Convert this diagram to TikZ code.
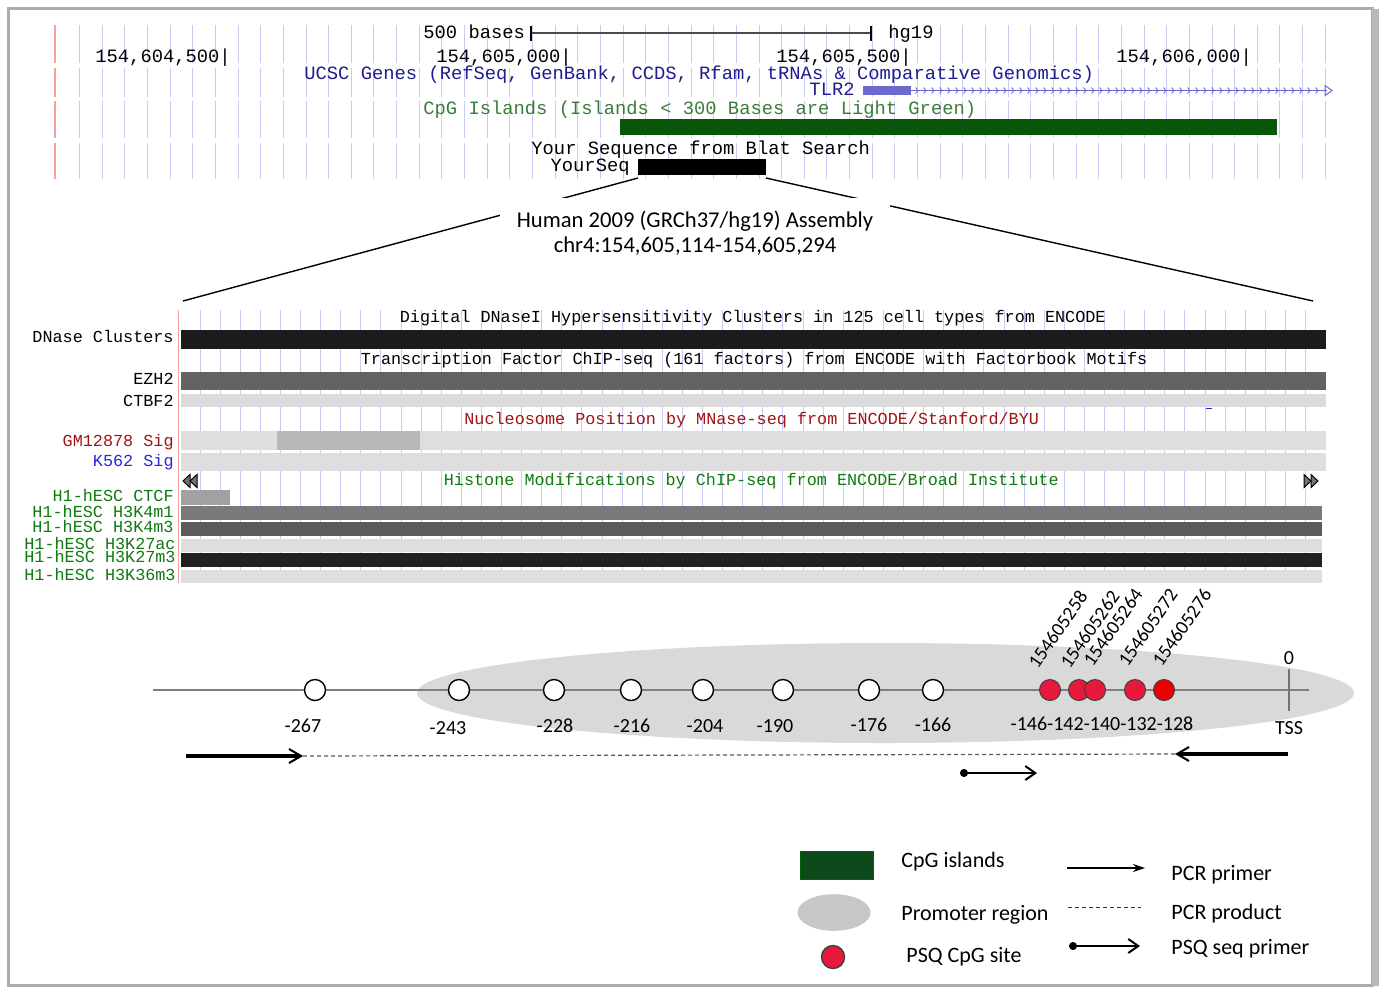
\documentclass[tikz,border=0pt]{standalone}
\usepackage{fontspec}
\setmainfont{Carlito}
\newfontfamily\ucsc{Liberation Mono}
\usetikzlibrary{arrows.meta}
\definecolor{gridblue}{HTML}{CACAF4}
\definecolor{gridred}{HTML}{F4A0A0}
\definecolor{navy}{HTML}{1E1E8C}
\definecolor{cpgtext}{HTML}{3A7D3A}
\definecolor{cpggreen}{HTML}{0B550B}
\definecolor{tlr}{HTML}{6B6BCF}
\definecolor{darkred}{HTML}{A01414}
\definecolor{kblue}{HTML}{2828D8}
\definecolor{hgreen}{HTML}{107A10}
\definecolor{promo}{HTML}{D9D9D9}
\definecolor{psqred}{HTML}{E8173C}
\definecolor{legendgreen}{HTML}{0C4A1C}
\tikzset{
  toptxt/.style={font=\ucsc\fontsize{9.4}{10}\selectfont, inner sep=0, text height=6.5pt, text depth=1.5pt},
  midtxt/.style={font=\ucsc\fontsize{8.4}{9}\selectfont, inner sep=0, text height=6pt, text depth=1.5pt},
  numtxt/.style={font=\fontsize{10}{12}\selectfont, inner sep=0, text height=7pt, text depth=0pt},
  rottxt/.style={font=\fontsize{9.7}{11}\selectfont, inner sep=0, rotate=55, anchor=south west},
  titletxt/.style={font=\fontsize{11.3}{13}\selectfont, inner sep=0},
  legtxt/.style={font=\fontsize{11}{13}\selectfont, inner sep=0, anchor=west, text height=7.5pt, text depth=2pt},
  gline/.style={gridblue, line width=0.5pt},
  rline/.style={gridred, line width=0.6pt},
  site/.style={draw=black, line width=0.7pt, fill=white},
  psq/.style={draw=black!75, line width=0.5pt, fill=psqred},
  zoomline/.style={black, line width=0.7pt},
  primer/.style={line width=1.8pt, -{Straight Barb[length=6pt,width=7pt,line width=1pt]}},
  product/.style={gray!70!black, line width=0.6pt, dash pattern=on 2pt off 1.5pt},
  seqprimer/.style={line width=0.7pt, {Circle[length=4pt]}-{Straight Barb[length=5pt,width=7pt,line width=1pt]}},
}
\begin{document}
\begin{tikzpicture}[x=0.5pt,y=-0.5pt]
\useasboundingbox (0,0) rectangle (1379,986);
\fill[white] (0,0) rectangle (1379,986);
% frame
\draw[gray!65, line width=1.5pt] (8,8) rectangle (1372,985);
\fill[gray!55] (1372,9) rectangle (1379,986);

% ---------- top browser ----------
\foreach \k in {0,...,55}{
  \pgfmathsetmacro\xx{79.5+22.65*\k}
  \foreach \a/\b in {25/63,68/97,101/138,143/179}
    \draw[gline] (\xx,\a) -- (\xx,\b);
}
\foreach \a/\b in {25/63,68/97,101/138,143/179}
  \draw[rline] (55,\a) -- (55,\b);

\node[toptxt, anchor=west] (bases) at (423,33) {500 bases};
\coordinate (sbL) at (531,33);
\coordinate (sbR) at (871,33);
\draw[black!70, line width=0.6pt] (sbL) -- (sbR);
\draw[black, line width=0.8pt] (531,26) -- (531,41);
\draw[black, line width=0.8pt] (871,26) -- (871,41);
\node[toptxt, anchor=west] (hg) at (888,33) {hg19};

\node[toptxt, anchor=west] (p1) at (95,57) {154,604,500|};
\node[toptxt, anchor=west] (p2) at (436,57) {154,605,000|};
\node[toptxt, anchor=west] (p3) at (776,57) {154,605,500|};
\node[toptxt, anchor=west] (p4) at (1116,57) {154,606,000|};

\node[toptxt, anchor=west, text=navy] (ucsc) at (304,74) {UCSC Genes (RefSeq, GenBank, CCDS, Rfam, tRNAs \& Comparative Genomics)};
\node[toptxt, anchor=east, text=navy] (tlrlab) at (855,90) {TLR2};
\fill[tlr] (863,86) rectangle (911,95);
\draw[tlr, line width=0.5pt] (911,90.5) -- (1327,90.5);
\foreach \x in {918,926,...,1318} \draw[tlr, line width=0.4pt] (\x-2.5,87.5) -- (\x,90.5) -- (\x-2.5,93.5);
\draw[tlr, line width=0.5pt] (1325,85.5) -- (1332,90.5) -- (1325,95.5) -- cycle;

\node[toptxt, anchor=west, text=cpgtext] (cpglab) at (423,109) {CpG Islands (Islands < 300 Bases are Light Green)};
\fill[cpggreen] (620,119) rectangle (1277,135);

\node[toptxt, anchor=west] (blat) at (531,149) {Your Sequence from Blat Search};
\node[toptxt, anchor=east] (yslab) at (630,166) {YourSeq};
\fill[black] (638,159) rectangle (766,175);

% ---------- zoom lines and title ----------
\coordinate (ysL) at (638,178);
\coordinate (ysR) at (766,178);
\coordinate (midL) at (183,301);
\coordinate (midR) at (1313,301);
\draw[zoomline] (ysL) -- (midL);
\draw[zoomline] (ysR) -- (midR);
\fill[white] (500,198) rectangle (890,266);
\node[titletxt] (t1) at (695,221) {Human 2009 (GRCh37/hg19) Assembly};
\node[titletxt] (t2) at (695,246) {chr4:154,605,114-154,605,294};

% ---------- middle tracks ----------
\foreach \k in {0,...,55}{
  \pgfmathsetmacro\xx{200+20.1*\k}
  \draw[gline] (\xx,310) -- (\xx,583);
}
\draw[rline] (178.5,310) -- (178.5,583);

\node[midtxt, anchor=west] (dtitle) at (399.5,318) {Digital DNaseI Hypersensitivity Clusters in 125 cell types from ENCODE};
\node[midtxt, anchor=east] (ldn) at (174,338) {DNase Clusters};
\fill[black!89] (181,329.5) rectangle (1326,348.5);

\node[midtxt, anchor=west] (ttitle) at (360.5,360) {Transcription Factor ChIP-seq (161 factors) from ENCODE with Factorbook Motifs};
\node[midtxt, anchor=east] (lez) at (174,380) {EZH2};
\fill[black!61] (181,372) rectangle (1326,390);
\node[midtxt, anchor=east] (lct) at (174,401.5) {CTBF2};
\fill[black!14] (181,393.5) rectangle (1326,406.5);

\node[midtxt, anchor=west, text=darkred] (ntitle) at (464,420) {Nucleosome Position by MNase-seq from ENCODE/Stanford/BYU};
\draw[kblue, line width=0.8pt] (1206,408.5) -- (1212,408.5);
\node[midtxt, anchor=east, text=darkred] (lgm) at (174,441.5) {GM12878 Sig};
\fill[black!13] (181,431) rectangle (1326,449.5);
\fill[black!28] (277,431) rectangle (420,449.5);
\node[midtxt, anchor=east, text=kblue] (lk5) at (174,461.5) {K562 Sig};
\fill[black!13] (181,452.5) rectangle (1326,471);

\node[midtxt, anchor=west, text=hgreen] (htitle) at (443.5,480.5) {Histone Modifications by ChIP-seq from ENCODE/Broad Institute};
\draw[black, line width=0.5pt, fill=black!55] (190,474.5) -- (183,481) -- (190,487.5) -- cycle;
\draw[black, line width=0.5pt, fill=black!55] (197,474.5) -- (190,481) -- (197,487.5) -- cycle;
\draw[black, line width=0.5pt, fill=black!55] (1304,474.5) -- (1311,481) -- (1304,487.5) -- cycle;
\draw[black, line width=0.5pt, fill=black!55] (1311,474.5) -- (1318,481) -- (1311,487.5) -- cycle;

\node[midtxt, anchor=east, text=hgreen] (l1) at (174,496.5) {H1-hESC CTCF};
\fill[black!37] (181,489.5) rectangle (230,504.5);
\node[midtxt, anchor=east, text=hgreen] (l2) at (174,512.5) {H1-hESC H3K4m1};
\fill[black!52] (181,506) rectangle (1322,520);
\node[midtxt, anchor=east, text=hgreen] (l3) at (174,527.5) {H1-hESC H3K4m3};
\fill[black!64] (181,521.5) rectangle (1322,536);
\node[midtxt, anchor=east, text=hgreen] (l4) at (176,545) {H1-hESC H3K27ac};
\fill[black!13] (181,538.5) rectangle (1322,551.5);
\node[midtxt, anchor=east, text=hgreen] (l5) at (176,558) {H1-hESC H3K27m3};
\fill[black!87] (181,553) rectangle (1322,567);
\node[midtxt, anchor=east, text=hgreen] (l6) at (176,576) {H1-hESC H3K36m3};
\fill[black!13] (181,570) rectangle (1322,583);

% ---------- bottom schematic ----------
\fill[promo] (885.5,693) ellipse [x radius=468.5, y radius=50];
\coordinate (axL) at (153,690);
\coordinate (axR) at (1309,690);
\draw[black!50, line width=1pt] (axL) -- (axR);
\coordinate (tssT) at (1289,669);
\coordinate (tssB) at (1289,711);
\draw[black!55, line width=1pt] (tssT) -- (tssB);
\node[numtxt] (zero) at (1289,657) {0};
\node[numtxt] (tss) at (1289,727) {TSS};

\foreach \cx/\lx/\ly/\lab in {315/303/725/-267, 459/448/727/-243, 554/555/725/-228, 631/632/725/-216, 703/705/725/-204, 783/775/725/-190, 869/869/724/-176, 933/933/724/-166}{
  \draw[site] (\cx,690) circle[radius=10.5];
  \node[numtxt] at (\lx,\ly) {\lab};
}
\foreach \cx in {1050,1079,1095,1135}{
  \draw[psq] (\cx,690) circle[radius=10.5];
}
\draw[draw=black!75, line width=0.5pt, fill=red!92!black] (1164,690) circle[radius=10.5];
\node[numtxt] (redlabs) at (1102,723) {-146-142-140-132-128};

\node[rottxt] (g1) at (1038,670) {154605258};
\node[rottxt] (g2) at (1070,670) {154605262};
\node[rottxt] (g3) at (1093,668) {154605264};
\node[rottxt] (g4) at (1128,668) {154605272};
\node[rottxt] (g5) at (1162,668) {154605276};

\coordinate (fwA) at (186,756);
\coordinate (fwB) at (303,756);
\coordinate (rvA) at (1288,754);
\coordinate (rvB) at (1175,754);
\draw[product] (fwB) -- (rvB);
\draw[primer] (fwA) -- (fwB);
\draw[primer] (rvA) -- (rvB);
\coordinate (sqA) at (960,773);
\coordinate (sqB) at (1037,773);
\draw[seqprimer] (sqA) -- (sqB);

% ---------- legend ----------
\draw[fill=legendgreen, draw=green!40!black, line width=0.5pt] (800,851) rectangle (873,879);
\node[legtxt] (lg1) at (901,861.5) {CpG islands};
\fill[black!22] (834,912.5) ellipse [x radius=36.5, y radius=18.3];
\node[legtxt] (lg2) at (901,915) {Promoter region};
\draw[psq, line width=0.7pt] (833,957) circle[radius=11.5];
\node[legtxt] (lg3) at (906,957) {PSQ CpG site};

\coordinate (lpA) at (1067,868);
\coordinate (lpB) at (1145,868);
\draw[line width=0.6pt, -{Stealth[length=6pt,width=4pt]}] (lpA) -- (lpB);
\node[legtxt] (lg4) at (1171,875) {PCR primer};
\coordinate (ldA) at (1068,907.5);
\coordinate (ldB) at (1141,907.5);
\draw[product, black!80] (ldA) -- (ldB);
\node[legtxt] (lg5) at (1171,914) {PCR product};
\coordinate (lsA) at (1069,946);
\coordinate (lsB) at (1140,946);
\draw[seqprimer] (lsA) -- (lsB);
\node[legtxt] (lg6) at (1171,949) {PSQ seq primer};
\end{tikzpicture}
\end{document}
